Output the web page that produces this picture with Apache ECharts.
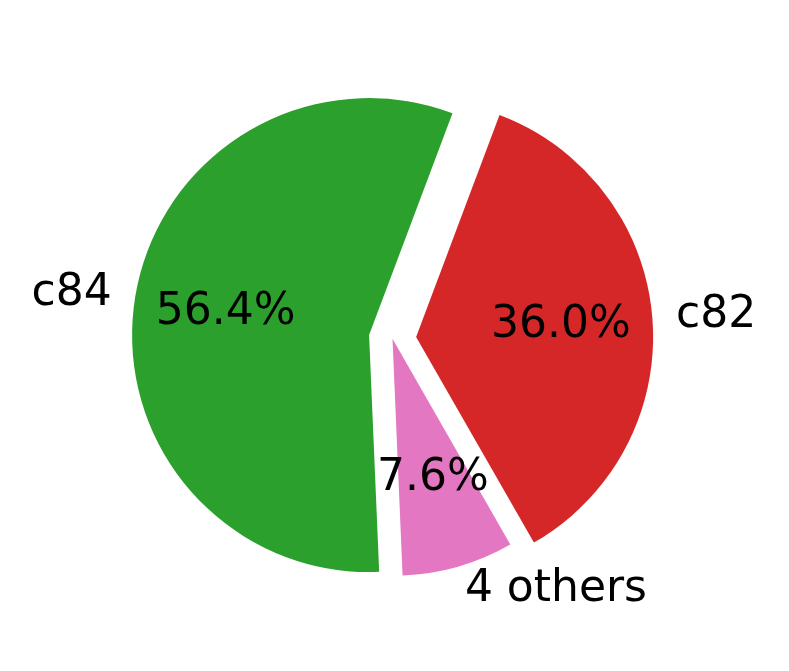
<!DOCTYPE html>
<html>
<head>
<meta charset="utf-8">
<script src="https://cdn.jsdelivr.net/npm/echarts@6/dist/echarts.min.js"></script>
<style>
  html, body { margin: 0; padding: 0; background: #fff; }
  #chart { width: 789px; height: 671px; }
</style>
</head>
<body>
<div id="chart"></div>
<script>
// slice data, in drawing order (counter-clockwise)
const names = ['c82', 'c84', '4 others']
const values = [36.0, 56.4, 7.6]
const colors = ['#d62728', '#2ca02c', '#e377c2']
const exploded = [true, true, false]

const R = 237
const EXPLODE = 23.7
const FONT = 'DejaVu Sans'

const chart = echarts.init(document.getElementById('chart'))

const slices = names.map((n, i) => ({
  name: n,
  value: values[i],
  selected: exploded[i],
  itemStyle: { color: colors[i] },
}))

const common = {
  type: 'pie',
  center: [392.5, 338.8],
  startAngle: 299.8,
  clockwise: false,
  selectedMode: 'multiple',
  selectedOffset: EXPLODE,
  avoidLabelOverlap: false,
  animation: false,
  emphasis: { disabled: true },
  select: { itemStyle: {} },
}

chart.setOption({
  backgroundColor: '#fff',
  series: [
    {
      ...common,
      name: 'slices',
      radius: [0, R],
      data: slices,
      label: {
        show: true,
        position: 'outside',
        formatter: '{b}',
        fontFamily: FONT,
        fontSize: 44,
        color: '#000',
        distanceToLabelLine: 0,
      },
      labelLine: { show: false, length: R * 0.1, length2: 0 },
    },
    {
      ...common,
      name: 'pct',
      z: 5,
      silent: true,
      radius: [0, R * 1.2],
      data: slices.map((s) => ({
        ...s,
        itemStyle: { color: 'rgba(0,0,0,0)' },
      })),
      label: {
        show: true,
        position: 'inside',
        formatter: (p) => p.percent.toFixed(1) + '%',
        fontFamily: FONT,
        fontSize: 44,
        color: '#000',
      },
      labelLine: { show: false },
    },
  ],
})
</script>
</body>
</html>
